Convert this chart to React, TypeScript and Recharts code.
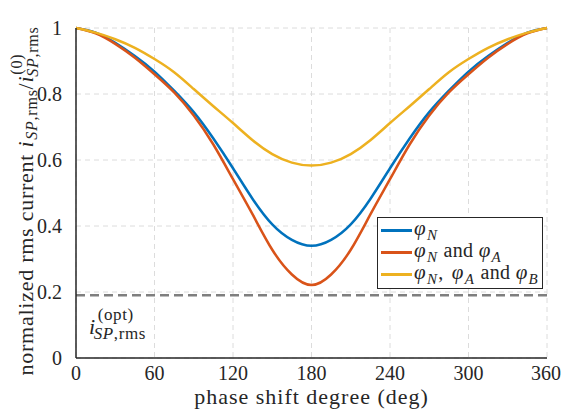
import { LineChart, Line, XAxis, YAxis, CartesianGrid, ReferenceLine } from "recharts";

const phaseDeg = [0, 15, 30, 45, 60, 75, 90, 105, 120, 135, 150, 165, 180, 195, 210, 225, 240, 255, 270, 285, 300, 315, 330, 345, 360];
const phiN = [1, 0.986, 0.955, 0.915, 0.868, 0.81, 0.745, 0.665, 0.575, 0.482, 0.405, 0.358, 0.34, 0.358, 0.405, 0.482, 0.575, 0.665, 0.745, 0.81, 0.868, 0.915, 0.955, 0.986, 1];
const phiNA = [1, 0.984, 0.952, 0.91, 0.86, 0.805, 0.735, 0.647, 0.542, 0.435, 0.328, 0.253, 0.221, 0.253, 0.328, 0.435, 0.542, 0.647, 0.735, 0.805, 0.86, 0.91, 0.952, 0.984, 1];
const phiNAB = [1, 0.986, 0.966, 0.94, 0.906, 0.866, 0.815, 0.763, 0.712, 0.66, 0.618, 0.592, 0.583, 0.592, 0.618, 0.66, 0.712, 0.763, 0.815, 0.866, 0.906, 0.94, 0.966, 0.986, 1];
const xTicks = [0, 60, 120, 180, 240, 300, 360];
const yTicks = [0, 0.2, 0.4, 0.6, 0.8, 1];
const optLevel = 0.19;

const rows = phaseDeg.map((d, i) => ({ deg: d, n: phiN[i], na: phiNA[i], nab: phiNAB[i] }));

const FONT = "'Liberation Serif', serif";
const INK = "#262626";

const Phi = ({ s }: { s: string }) => (
  <span>
    <i style={{ fontSize: 21 }}>φ</i>
    <sub style={{ fontSize: 15, fontStyle: "italic", verticalAlign: "-5px", marginLeft: 1, marginRight: 1 }}>{s}</sub>
  </span>
);

const legendItems = [
  { color: "#0072BD", label: <Phi s="N" /> },
  { color: "#D95319", label: <><Phi s="N" /> and <Phi s="A" /></> },
  { color: "#EDB120", label: <><Phi s="N" />,<span style={{ marginLeft: 3 }} /> <Phi s="A" /> and <Phi s="B" /></> },
];

const LegendBox = () => (
  <div
    style={{
      position: "absolute",
      left: 377,
      top: 217,
      border: `1.5px solid ${INK}`,
      background: "#fff",
      width: 166,
      height: 72,
      boxSizing: "border-box",
      padding: "1px 0 0 3px",
      fontFamily: FONT,
      fontSize: 20,
      letterSpacing: 0.3,
      color: INK,
    }}
  >
    {legendItems.map((it, i) => (
      <div key={i} style={{ display: "flex", alignItems: "center", height: 22, whiteSpace: "nowrap" }}>
        <span style={{ display: "inline-block", width: 31, height: 3, background: it.color, marginRight: 2 }} />
        <span>{it.label}</span>
      </div>
    ))}
  </div>
);

const YLabel = () => {
  const x = 33;
  const y = 201;
  return (
    <text
      x={x}
      y={y}
      transform={`rotate(-90, ${x}, ${y})`}
      textAnchor="middle"
      fontFamily={FONT}
      fontSize={22}
      letterSpacing={0.75}
      fill={INK}
    >
      <tspan>normalized rms current </tspan>
      <tspan fontStyle="italic">i</tspan>
      <tspan fontSize={16} dx={1} dy={4} fontStyle="italic">SP</tspan>
      <tspan fontSize={16}>,rms</tspan>
      <tspan dy={-4}>/</tspan>
      <tspan fontStyle="italic">i</tspan>
      <tspan fontSize={16} dx={1} dy={-11}>(0)</tspan>
      <tspan fontSize={16} dx={-23} dy={16} fontStyle="italic">SP</tspan>
      <tspan fontSize={16}>,rms</tspan>
    </text>
  );
};

const OptLabel = (props: any) => {
  const vb = props.viewBox || { x: 76, y: 295 };
  const x = vb.x + 13;
  const y = vb.y + 39;
  return (
    <text x={x} y={y} fontFamily={FONT} fontSize={22} fill={INK} letterSpacing={0.6}>
      <tspan fontStyle="italic">i</tspan>
      <tspan fontSize={17} dx={2} dy={-14}>(opt)</tspan>
      <tspan fontSize={17} dx={-40} dy={19} fontStyle="italic">SP</tspan>
      <tspan fontSize={17}>,rms</tspan>
    </text>
  );
};

const XLabel = (props: any) => {
  const vb = props.viewBox || { x: 76, width: 471 };
  return (
    <text x={vb.x + vb.width / 2} y={404} textAnchor="middle" fontFamily={FONT} fontSize={22} letterSpacing={1} fill={INK}>
      phase shift degree (deg)
    </text>
  );
};

export default function App() {
  return (
    <div style={{ position: "absolute", left: 0, top: 0, width: 561, height: 419, background: "#fff" }}>
      <LineChart width={561} height={419} data={rows} margin={{ top: 28, right: 14, bottom: 0, left: 0 }}>
        <CartesianGrid stroke="#dcdcdc" strokeDasharray="5 4" strokeWidth={1} />
        <XAxis
          dataKey="deg"
          type="number"
          domain={[0, 360]}
          ticks={xTicks}
          height={61}
          tickLine={false}
          tickMargin={2}
          axisLine={{ stroke: INK, strokeWidth: 1.5 }}
          tick={{ fontFamily: FONT, fontSize: 20, fill: INK }}
          label={<XLabel />}
        />
        <XAxis xAxisId="top" orientation="top" dataKey="deg" type="number" domain={[0, 360]} height={0} tick={false} tickLine={false} axisLine={{ stroke: INK, strokeWidth: 1.5 }} />
        <YAxis
          type="number"
          domain={[0, 1]}
          ticks={yTicks}
          width={76}
          tickLine={false}
          tickMargin={8}
          axisLine={{ stroke: INK, strokeWidth: 1.5 }}
          tick={{ fontFamily: FONT, fontSize: 20, fill: INK }}
          tickFormatter={(v: number) => String(v)}
          label={<YLabel />}
        />
        <YAxis yAxisId="right" orientation="right" domain={[0, 1]} width={0} tick={false} tickLine={false} axisLine={{ stroke: INK, strokeWidth: 1.5 }} />
        <ReferenceLine y={optLevel} stroke="#7f7f7f" strokeWidth={2.5} strokeDasharray="9 5" label={<OptLabel />} />
        <Line dataKey="n" type="natural" stroke="#0072BD" strokeWidth={2.5} dot={false} isAnimationActive={false} />
        <Line dataKey="na" type="natural" stroke="#D95319" strokeWidth={2.5} dot={false} isAnimationActive={false} />
        <Line dataKey="nab" type="natural" stroke="#EDB120" strokeWidth={2.5} dot={false} isAnimationActive={false} />
      </LineChart>
      <LegendBox />
    </div>
  );
}
